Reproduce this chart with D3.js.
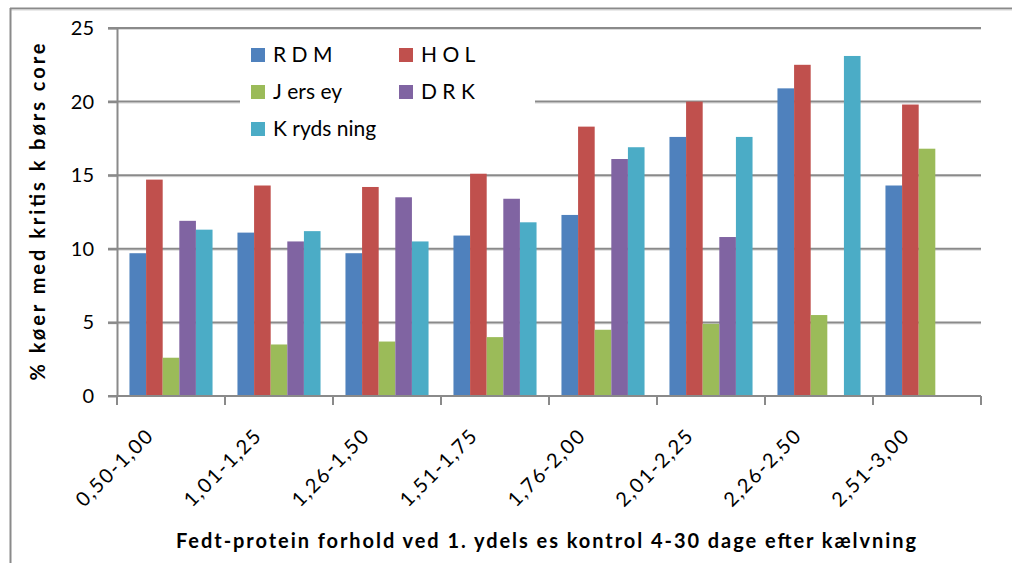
<!DOCTYPE html>
<html>
<head>
<meta charset="utf-8">
<script src="https://cdn.jsdelivr.net/npm/d3@7"></script>
<style>
  html, body { margin: 0; padding: 0; background: #fff; }
  svg { display: block; font-family: Lato, "Open Sans", sans-serif; }
</style>
</head>
<body>
<svg id="chart" width="1012" height="563"></svg>
<script>
// ---- data ----
const categories = ["0,50-1,00", "1,01-1,25", "1,26-1,50", "1,51-1,75", "1,76-2,00", "2,01-2,25", "2,26-2,50", "2,51-3,00"];
const seriesNames = ["RDM", "HOL", "Jersey", "DRK", "Krydsning"];
const legendLabels = ["R D M", "H O L", "J ers ey", "D R K", "K ryds ning"];
const RDM       = [9.7, 11.1, 9.7, 10.9, 12.3, 17.6, 20.9, 14.3];
const HOL       = [14.7, 14.3, 14.2, 15.1, 18.3, 20.0, 22.5, 19.8];
const Jersey    = [2.6, 3.5, 3.7, 4.0, 4.5, 4.9, 5.5, 16.8];
const DRK       = [11.9, 10.5, 13.5, 13.4, 16.1, 10.8, null, null];
const Krydsning = [11.3, 11.2, 10.5, 11.8, 16.9, 17.6, 23.1, null];
const yTicks = [0, 5, 10, 15, 20, 25];
const yTitle = "% køer med kritis k børs core";
const xTitle = "Fedt-protein forhold ved 1. ydels es kontrol 4-30 dage efter kælvning";
const colors = ["#4F81BD", "#C0504D", "#9BBB59", "#8064A2", "#4BACC6"];

const seriesValues = [RDM, HOL, Jersey, DRK, Krydsning];

// ---- layout ----
const svg = d3.select("#chart");
const plot = { left: 117, right: 981, top: 28, bottom: 396 };

const x0 = d3.scaleBand().domain(categories).range([plot.left, plot.right]).paddingInner(0).paddingOuter(0);
const x1 = d3.scaleBand().domain(seriesNames).range([0, x0.bandwidth()]).paddingInner(0).paddingOuter(0.75);
const y = d3.scaleLinear().domain([0, 25]).range([plot.bottom, plot.top]);

const gridColor = "#8a8a8a";

// outer frame
svg.append("line").attr("x1", 10).attr("x2", 1012).attr("y1", 8.5).attr("y2", 8.5)
  .attr("stroke", gridColor).attr("stroke-width", 2);
svg.append("line").attr("x1", 10).attr("x2", 1012).attr("y1", 10).attr("y2", 10)
  .attr("stroke", "#d6d6d6").attr("stroke-width", 1);
svg.append("line").attr("x1", 10.5).attr("x2", 10.5).attr("y1", 8).attr("y2", 563)
  .attr("stroke", gridColor).attr("stroke-width", 2);

// gridlines
const grid = svg.append("g");
yTicks.forEach(t => {
  if (t === 0) return;
  grid.append("line").attr("x1", plot.left - 9).attr("x2", plot.right)
    .attr("y1", y(t) + 1.5).attr("y2", y(t) + 1.5)
    .attr("stroke", "#dcdcdc").attr("stroke-width", 1);
  grid.append("line").attr("x1", plot.left - 9).attr("x2", plot.right)
    .attr("y1", y(t)).attr("y2", y(t))
    .attr("stroke", gridColor).attr("stroke-width", 2);
});

// bars
const bars = svg.append("g");
seriesValues.forEach((vals, si) => {
  bars.selectAll(null)
    .data(categories.map((c, i) => ({ c, v: vals[i] })).filter(d => d.v != null))
    .enter().append("rect")
    .attr("x", d => x0(d.c) + x1(seriesNames[si]))
    .attr("width", x1.bandwidth())
    .attr("y", d => y(d.v))
    .attr("height", d => y(0) - y(d.v))
    .attr("fill", colors[si]);
});

// y axis
const yAxis = d3.axisLeft(y).tickValues(yTicks).tickSize(9).tickPadding(14).tickSizeOuter(0);
const gy = svg.append("g").attr("transform", `translate(${plot.left},0)`).call(yAxis);
gy.select(".domain").attr("stroke", gridColor).attr("stroke-width", 2);
gy.selectAll(".tick line").attr("stroke", gridColor).attr("stroke-width", 2);
gy.selectAll(".tick text").attr("font-size", 20).attr("fill", "#000")
  .attr("font-family", "Lato, sans-serif");

// x axis
const boundaries = categories.map(c => x0(c)).concat([plot.right]);
const gx = svg.append("g");
gx.append("line").attr("x1", plot.left - 9).attr("x2", plot.right)
  .attr("y1", plot.bottom).attr("y2", plot.bottom)
  .attr("stroke", gridColor).attr("stroke-width", 2);
gx.selectAll(null).data(boundaries).enter().append("line")
  .attr("x1", d => d).attr("x2", d => d)
  .attr("y1", plot.bottom).attr("y2", plot.bottom + 9)
  .attr("stroke", gridColor).attr("stroke-width", 2);
gx.selectAll(null).data(categories).enter().append("text")
  .attr("transform", d => `translate(${x0(d) + x0.bandwidth() / 2 - 16},${plot.bottom + 41}) rotate(-45)`)
  .attr("text-anchor", "end")
  .attr("font-size", 20)
  .attr("letter-spacing", 1.6)
  .attr("fill", "#000")
  .text(d => d);

// axis titles
svg.append("text")
  .attr("transform", `translate(45,212) rotate(-90)`)
  .attr("text-anchor", "middle")
  .attr("font-weight", "bold")
  .attr("font-size", 20)
  .attr("textLength", 337)
  .attr("lengthAdjust", "spacing")
  .text(yTitle);

svg.append("text")
  .attr("x", 546).attr("y", 548)
  .attr("text-anchor", "middle")
  .attr("font-weight", "bold")
  .attr("font-size", 20)
  .attr("textLength", 740)
  .attr("lengthAdjust", "spacing")
  .text(xTitle);

// legend
const legend = svg.append("g");
legend.append("rect").attr("x", 240).attr("y", 34).attr("width", 295).attr("height", 112).attr("fill", "#fff");
const legendPos = [[251, 48], [399, 48], [251, 85], [399, 85], [251, 122]];
seriesNames.forEach((s, i) => {
  const [lx, ly] = legendPos[i];
  legend.append("rect").attr("x", lx).attr("y", ly).attr("width", 14).attr("height", 14).attr("fill", colors[i]);
  legend.append("text").attr("x", lx + 22).attr("y", ly + 14)
    .attr("font-size", 21).attr("fill", "#000")
    .text(legendLabels[i]);
});
</script>
</body>
</html>
